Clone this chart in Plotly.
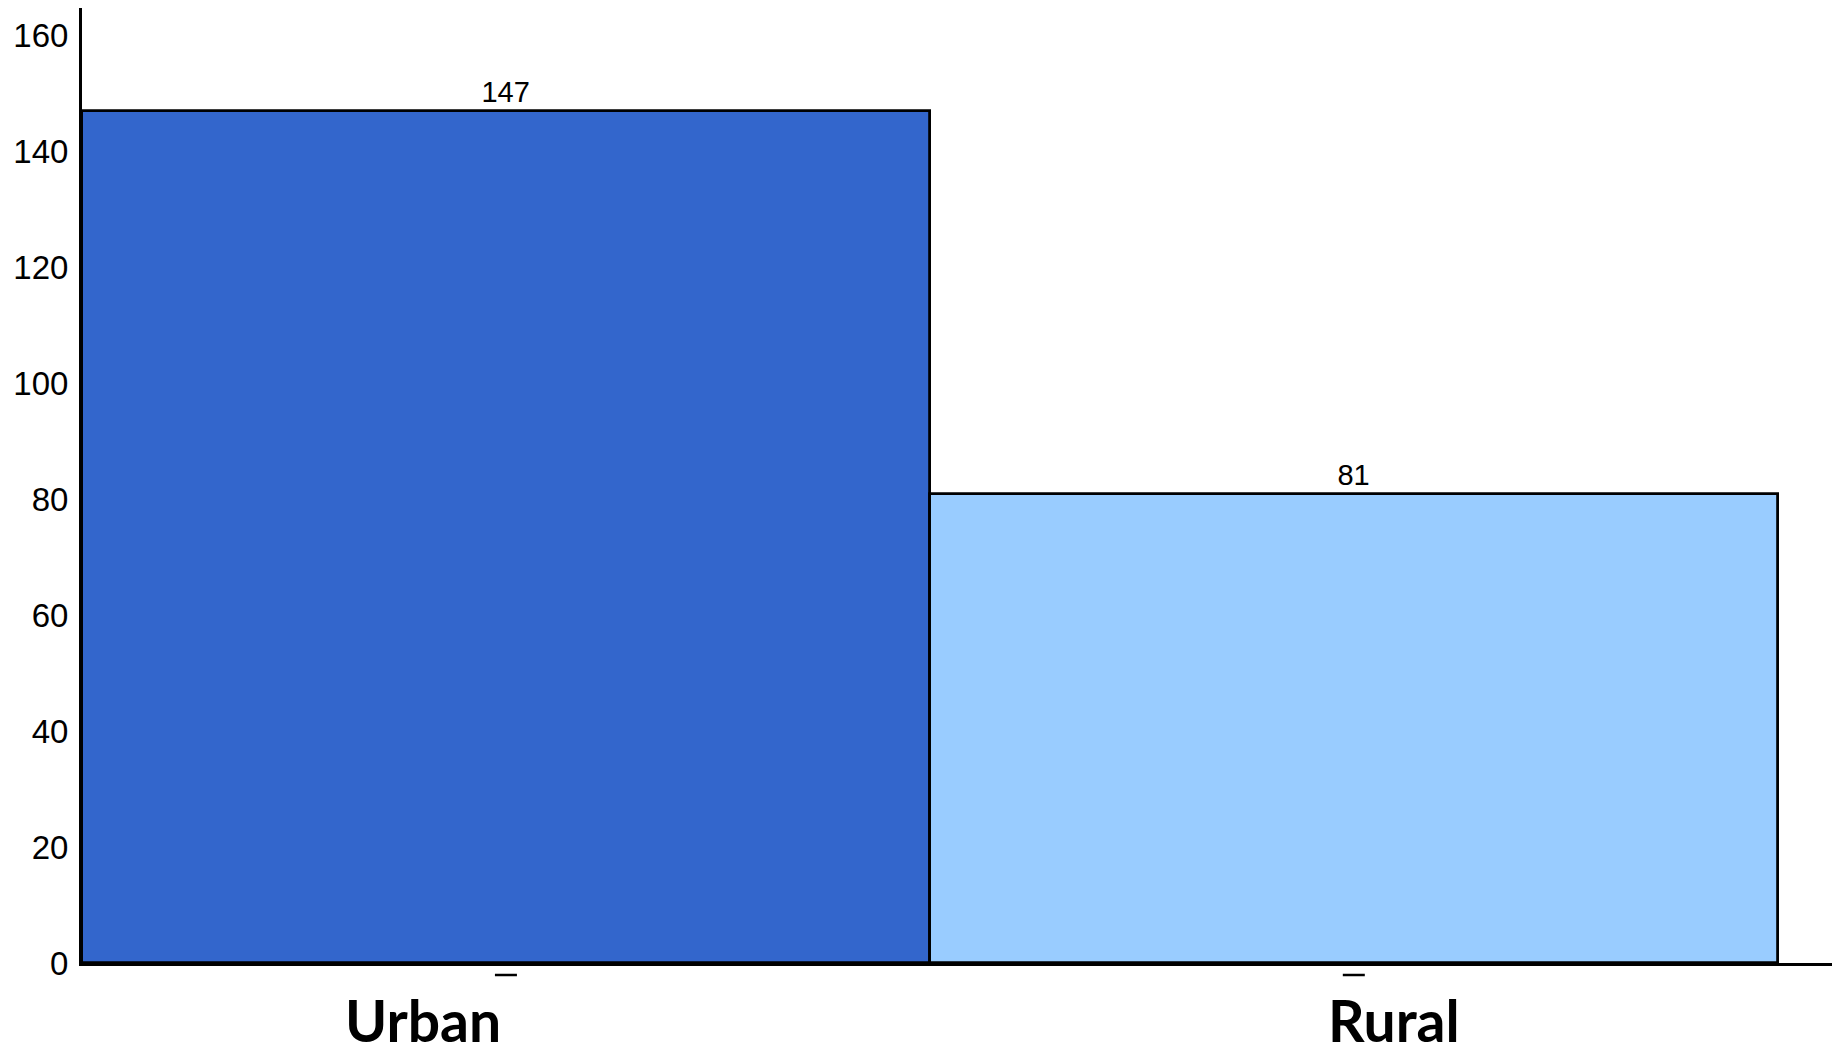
import plotly.graph_objects as go

categories = ["Urban", "Rural"]
counts = [147, 81]
bar_colors = ["#3366CC", "#99CCFF"]
y_ticks = [0, 20, 40, 60, 80, 100, 120, 140, 160]
label_shifts = [-83, 40]

fig = go.Figure()
fig.add_trace(go.Bar(
    x=categories,
    y=counts,
    marker=dict(color=bar_colors, line=dict(color="black", width=2.8)),
    text=[str(c) for c in counts],
    textposition="outside",
    textfont=dict(family="Liberation Sans, Arial, sans-serif", size=29, color="black"),
    cliponaxis=False,
    width=1.0,
))

for i, (cat, sh) in enumerate(zip(categories, label_shifts)):
    fig.add_annotation(
        x=cat, y=0, xref="x", yref="y",
        text="<b>%s</b>" % cat,
        showarrow=False,
        yanchor="middle",
        yshift=-57,
        xshift=sh,
        borderpad=0,
        font=dict(family="Lato, Open Sans, sans-serif", size=57, color="black"),
    )
    # small tick dash under each category
    fig.add_shape(
        type="line", xref="x", yref="paper",
        xsizemode="pixel", ysizemode="pixel",
        xanchor=i, yanchor=0,
        x0=-11, x1=11, y0=-12, y1=-12,
        line=dict(color="black", width=2.5),
    )

fig.update_layout(
    width=1832,
    height=1053,
    margin=dict(l=82, r=0, t=8, b=90),
    paper_bgcolor="white",
    plot_bgcolor="white",
    bargap=0,
    showlegend=False,
    xaxis=dict(
        type="category",
        range=[-0.5, 1.564],
        showline=True,
        linecolor="black",
        linewidth=3,
        showgrid=False,
        zeroline=False,
        ticks="",
        showticklabels=False,
    ),
    yaxis=dict(
        range=[0, 164.8],
        showline=True,
        linecolor="black",
        linewidth=3,
        showgrid=False,
        zeroline=False,
        ticks="",
        tickvals=y_ticks,
        tickfont=dict(family="Liberation Sans, Arial, sans-serif", size=33, color="black"),
        ticklabelstandoff=4,
    ),
)

fig.write_html("out.html")
